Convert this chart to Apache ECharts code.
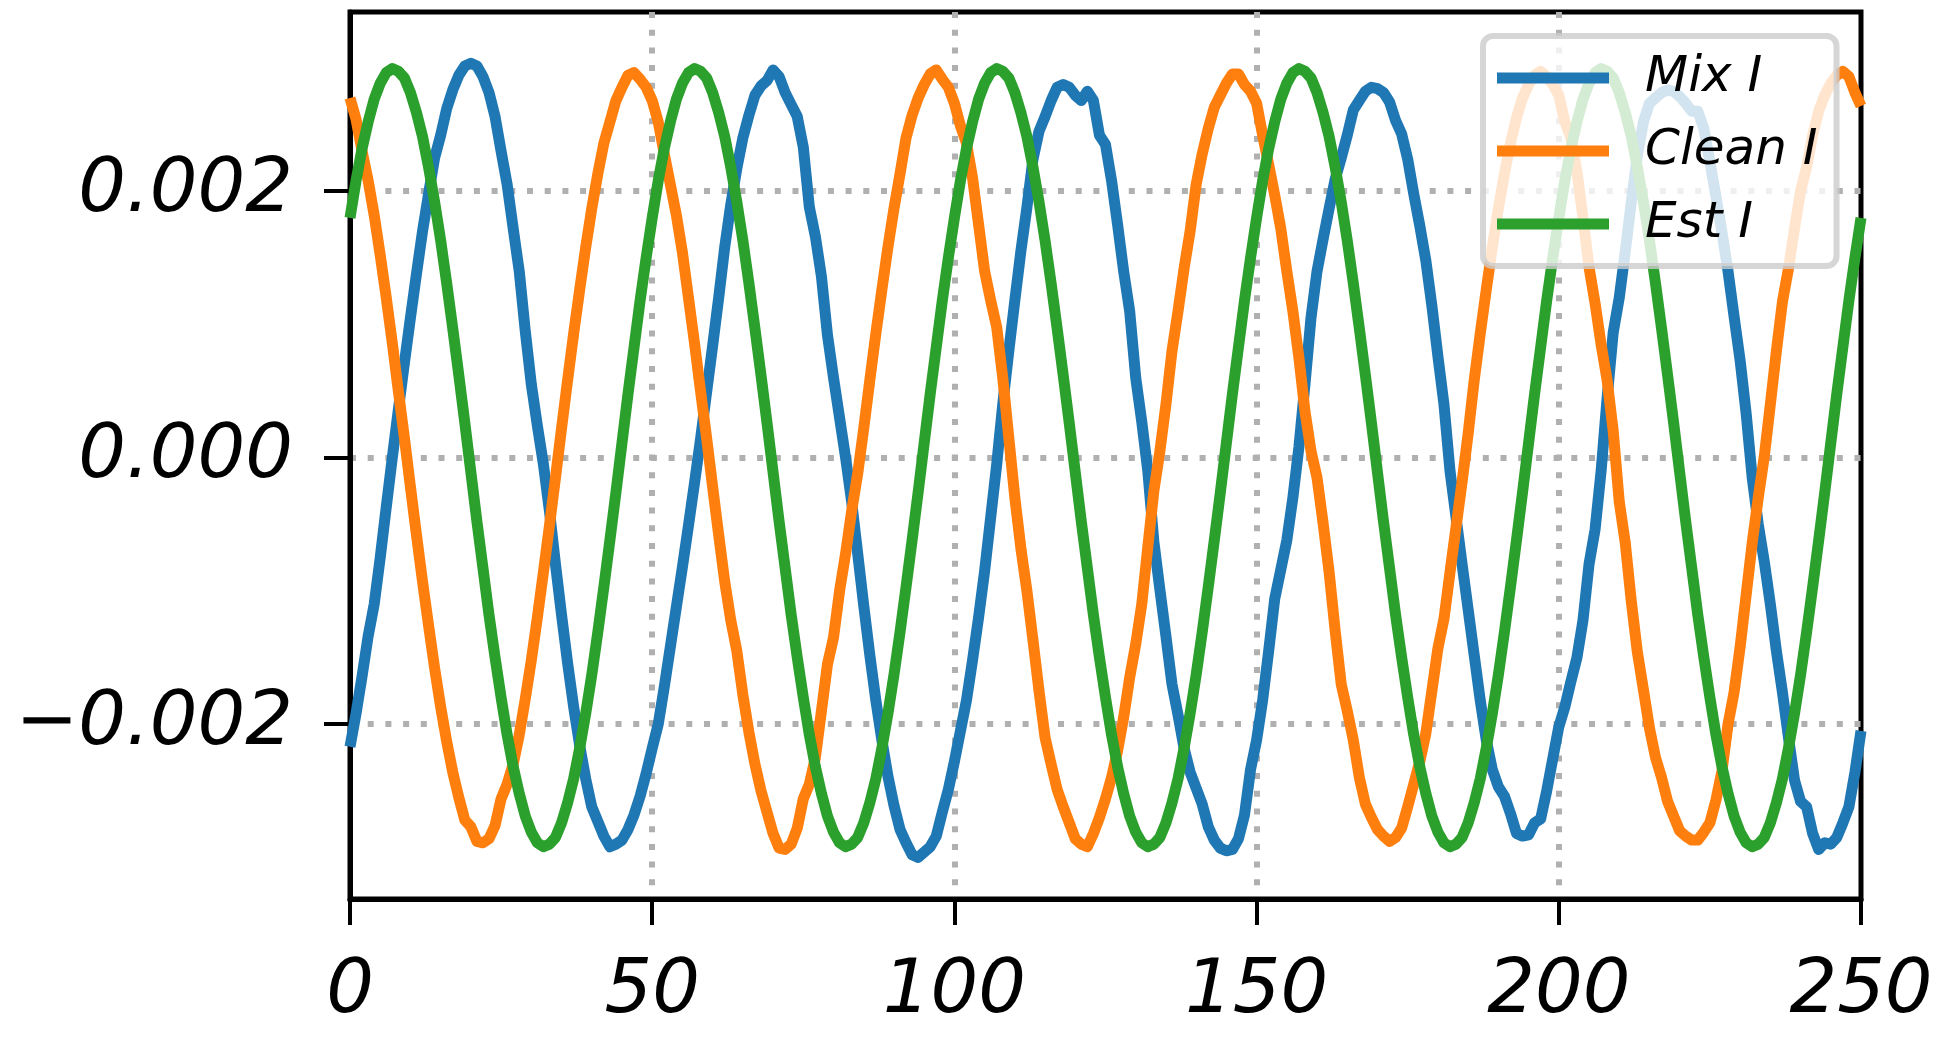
<!DOCTYPE html>
<html>

<head>
    <title></title>
    <meta charset="UTF-8">
    <script src="https://cdn.jsdelivr.net/npm/echarts@6/dist/echarts.min.js"></script>
</head>
<style type="text/css">
    html,
    body {
        height: 100%;
        width: 100%;
        margin: 0;
        padding: 0;
        background: #fff;
    }

    #main {
        width: 1944px;
        height: 1044px;
    }
</style>

<body>
    <div id="main"></div>
</body>
<script>
    // sample index runs 0..250, one value per sample
    var seriesNames = ['Mix I', 'Clean I', 'Est I'];
    var xTicks = [0, 50, 100, 150, 200, 250];
    var yTicks = [-0.002, 0, 0.002];

    var mixI = [
        -0.00217, -0.00192, -0.00164, -0.00134, -0.00110, -0.00075, -0.00037, 0.00000, 0.00036, 0.00071,
        0.00105, 0.00138, 0.00170, 0.00198, 0.00225, 0.00242, 0.00262, 0.00276, 0.00287, 0.00294,
        0.00296, 0.00294, 0.00286, 0.00274, 0.00256, 0.00230, 0.00205, 0.00172, 0.00140, 0.00095,
        0.00055, 0.00024, -0.00005, -0.00040, -0.00080, -0.00118, -0.00154, -0.00187, -0.00216, -0.00241,
        -0.00262, -0.00273, -0.00284, -0.00292, -0.00290, -0.00287, -0.00279, -0.00268, -0.00254, -0.00237,
        -0.00218, -0.00200, -0.00172, -0.00142, -0.00112, -0.00082, -0.00051, -0.00019, 0.00014, 0.00049,
        0.00084, 0.00120, 0.00158, 0.00190, 0.00217, 0.00240, 0.00257, 0.00272, 0.00279, 0.00283,
        0.00291, 0.00286, 0.00274, 0.00265, 0.00256, 0.00233, 0.00188, 0.00166, 0.00136, 0.00092,
        0.00060, 0.00030, 0.00000, -0.00033, -0.00072, -0.00111, -0.00148, -0.00182, -0.00212, -0.00239,
        -0.00261, -0.00279, -0.00289, -0.00298, -0.00300, -0.00296, -0.00292, -0.00284, -0.00266, -0.00249,
        -0.00228, -0.00205, -0.00182, -0.00152, -0.00120, -0.00085, -0.00045, -0.00005, 0.00040, 0.00080,
        0.00118, 0.00155, 0.00188, 0.00224, 0.00245, 0.00256, 0.00268, 0.00278, 0.00280, 0.00278,
        0.00272, 0.00268, 0.00275, 0.00268, 0.00242, 0.00235, 0.00208, 0.00175, 0.00140, 0.00110,
        0.00060, 0.00027, -0.00010, -0.00063, -0.00099, -0.00134, -0.00170, -0.00193, -0.00218, -0.00236,
        -0.00248, -0.00260, -0.00277, -0.00287, -0.00293, -0.00295, -0.00294, -0.00286, -0.00268, -0.00234,
        -0.00212, -0.00182, -0.00145, -0.00106, -0.00084, -0.00062, -0.00030, 0.00008, 0.00055, 0.00105,
        0.00140, 0.00164, 0.00187, 0.00209, 0.00225, 0.00242, 0.00261, 0.00268, 0.00275, 0.00278,
        0.00277, 0.00274, 0.00267, 0.00253, 0.00243, 0.00224, 0.00198, 0.00174, 0.00148, 0.00114,
        0.00076, 0.00040, -0.00010, -0.00045, -0.00080, -0.00114, -0.00148, -0.00182, -0.00212, -0.00234,
        -0.00247, -0.00254, -0.00267, -0.00282, -0.00284, -0.00283, -0.00274, -0.00271, -0.00250, -0.00226,
        -0.00202, -0.00187, -0.00168, -0.00150, -0.00122, -0.00080, -0.00054, -0.00010, 0.00045, 0.00094,
        0.00120, 0.00155, 0.00192, 0.00227, 0.00252, 0.00266, 0.00270, 0.00274, 0.00276, 0.00275,
        0.00271, 0.00266, 0.00260, 0.00260, 0.00247, 0.00222, 0.00196, 0.00169, 0.00140, 0.00106,
        0.00073, 0.00033, -0.00015, -0.00050, -0.00078, -0.00110, -0.00145, -0.00176, -0.00210, -0.00242,
        -0.00258, -0.00262, -0.00282, -0.00294, -0.00289, -0.00290, -0.00285, -0.00274, -0.00262, -0.00236,
        -0.00205
    ];

    var cleanI = [
        0.00270, 0.00254, 0.00230, 0.00208, 0.00182, 0.00152, 0.00120, 0.00086, 0.00050, 0.00015,
        -0.00022, -0.00058, -0.00093, -0.00126, -0.00158, -0.00187, -0.00213, -0.00236, -0.00255, -0.00272,
        -0.00277, -0.00288, -0.00289, -0.00286, -0.00276, -0.00256, -0.00245, -0.00230, -0.00208, -0.00181,
        -0.00152, -0.00120, -0.00086, -0.00051, -0.00015, 0.00022, 0.00058, 0.00093, 0.00126, 0.00158,
        0.00187, 0.00213, 0.00236, 0.00252, 0.00268, 0.00278, 0.00287, 0.00289, 0.00284, 0.00278,
        0.00268, 0.00252, 0.00228, 0.00205, 0.00182, 0.00154, 0.00120, 0.00086, 0.00050, 0.00015,
        -0.00022, -0.00058, -0.00093, -0.00122, -0.00145, -0.00178, -0.00206, -0.00230, -0.00250, -0.00266,
        -0.00282, -0.00293, -0.00294, -0.00290, -0.00278, -0.00256, -0.00245, -0.00225, -0.00190, -0.00155,
        -0.00135, -0.00100, -0.00072, -0.00040, -0.00012, 0.00022, 0.00058, 0.00093, 0.00126, 0.00158,
        0.00187, 0.00213, 0.00240, 0.00257, 0.00270, 0.00280, 0.00288, 0.00291, 0.00284, 0.00278,
        0.00266, 0.00249, 0.00236, 0.00210, 0.00175, 0.00140, 0.00118, 0.00098, 0.00060, 0.00015,
        -0.00030, -0.00068, -0.00100, -0.00137, -0.00175, -0.00210, -0.00230, -0.00249, -0.00262, -0.00274,
        -0.00286, -0.00290, -0.00292, -0.00282, -0.00270, -0.00256, -0.00240, -0.00220, -0.00195, -0.00165,
        -0.00140, -0.00110, -0.00067, -0.00025, 0.00005, 0.00040, 0.00080, 0.00110, 0.00142, 0.00170,
        0.00205, 0.00228, 0.00247, 0.00263, 0.00272, 0.00281, 0.00288, 0.00288, 0.00280, 0.00275,
        0.00266, 0.00242, 0.00220, 0.00197, 0.00172, 0.00140, 0.00110, 0.00075, 0.00035, 0.00005,
        -0.00015, -0.00049, -0.00086, -0.00130, -0.00170, -0.00190, -0.00212, -0.00240, -0.00260, -0.00270,
        -0.00279, -0.00284, -0.00288, -0.00285, -0.00278, -0.00262, -0.00245, -0.00228, -0.00207, -0.00175,
        -0.00143, -0.00121, -0.00086, -0.00052, -0.00018, 0.00018, 0.00058, 0.00093, 0.00126, 0.00158,
        0.00187, 0.00213, 0.00236, 0.00255, 0.00270, 0.00280, 0.00287, 0.00290, 0.00286, 0.00280,
        0.00272, 0.00252, 0.00240, 0.00215, 0.00180, 0.00143, 0.00116, 0.00085, 0.00058, 0.00020,
        -0.00033, -0.00064, -0.00108, -0.00146, -0.00174, -0.00203, -0.00225, -0.00240, -0.00258, -0.00269,
        -0.00280, -0.00284, -0.00287, -0.00287, -0.00281, -0.00274, -0.00257, -0.00235, -0.00200, -0.00176,
        -0.00142, -0.00103, -0.00064, -0.00030, 0.00001, 0.00040, 0.00080, 0.00117, 0.00142, 0.00172,
        0.00200, 0.00218, 0.00242, 0.00260, 0.00272, 0.00281, 0.00287, 0.00290, 0.00286, 0.00274,
        0.00264
    ];

    var estI = [
        0.00180, 0.00208, 0.00232, 0.00252, 0.00269, 0.00281, 0.00289, 0.00292, 0.00290, 0.00285,
        0.00274, 0.00259, 0.00241, 0.00218, 0.00192, 0.00163, 0.00131, 0.00097, 0.00062, 0.00026,
        -0.00011, -0.00048, -0.00083, -0.00118, -0.00150, -0.00180, -0.00208, -0.00232, -0.00252, -0.00269,
        -0.00281, -0.00289, -0.00292, -0.00290, -0.00285, -0.00274, -0.00259, -0.00241, -0.00218, -0.00192,
        -0.00163, -0.00131, -0.00097, -0.00062, -0.00026, 0.00011, 0.00048, 0.00083, 0.00118, 0.00150,
        0.00180, 0.00208, 0.00232, 0.00252, 0.00269, 0.00281, 0.00289, 0.00292, 0.00290, 0.00285,
        0.00274, 0.00259, 0.00241, 0.00218, 0.00192, 0.00163, 0.00131, 0.00097, 0.00062, 0.00026,
        -0.00011, -0.00048, -0.00083, -0.00118, -0.00150, -0.00180, -0.00208, -0.00232, -0.00252, -0.00269,
        -0.00281, -0.00289, -0.00292, -0.00290, -0.00285, -0.00274, -0.00259, -0.00241, -0.00218, -0.00192,
        -0.00163, -0.00131, -0.00097, -0.00062, -0.00026, 0.00011, 0.00048, 0.00083, 0.00118, 0.00150,
        0.00180, 0.00208, 0.00232, 0.00252, 0.00269, 0.00281, 0.00289, 0.00292, 0.00290, 0.00285,
        0.00274, 0.00259, 0.00241, 0.00218, 0.00192, 0.00163, 0.00131, 0.00097, 0.00062, 0.00026,
        -0.00011, -0.00048, -0.00083, -0.00118, -0.00150, -0.00180, -0.00208, -0.00232, -0.00252, -0.00269,
        -0.00281, -0.00289, -0.00292, -0.00290, -0.00285, -0.00274, -0.00259, -0.00241, -0.00218, -0.00192,
        -0.00163, -0.00131, -0.00097, -0.00062, -0.00026, 0.00011, 0.00048, 0.00083, 0.00118, 0.00150,
        0.00180, 0.00208, 0.00232, 0.00252, 0.00269, 0.00281, 0.00289, 0.00292, 0.00290, 0.00285,
        0.00274, 0.00259, 0.00241, 0.00218, 0.00192, 0.00163, 0.00131, 0.00097, 0.00062, 0.00026,
        -0.00011, -0.00048, -0.00083, -0.00118, -0.00150, -0.00180, -0.00208, -0.00232, -0.00252, -0.00269,
        -0.00281, -0.00289, -0.00292, -0.00290, -0.00285, -0.00274, -0.00259, -0.00241, -0.00218, -0.00192,
        -0.00163, -0.00131, -0.00097, -0.00062, -0.00026, 0.00011, 0.00048, 0.00083, 0.00118, 0.00150,
        0.00180, 0.00208, 0.00232, 0.00252, 0.00269, 0.00281, 0.00289, 0.00292, 0.00290, 0.00285,
        0.00274, 0.00259, 0.00241, 0.00218, 0.00192, 0.00163, 0.00131, 0.00097, 0.00062, 0.00026,
        -0.00011, -0.00048, -0.00083, -0.00118, -0.00150, -0.00180, -0.00208, -0.00232, -0.00252, -0.00269,
        -0.00281, -0.00289, -0.00292, -0.00290, -0.00285, -0.00274, -0.00259, -0.00241, -0.00218, -0.00192,
        -0.00163, -0.00131, -0.00097, -0.00062, -0.00026, 0.00011, 0.00048, 0.00083, 0.00118, 0.00150,
        0.00180
    ];

    var colors = ['#1f77b4', '#ff7f0e', '#2ca02c'];
    var font = 'DejaVu Sans';

    function pairs(arr) {
        return arr.map(function (v, i) { return [i, v]; });
    }

    function lineSeries(name, arr, color) {
        return {
            name: name,
            type: 'line',
            data: pairs(arr),
            showSymbol: false,
            symbol: 'none',
            color: color,
            lineStyle: { color: color, width: 11, join: 'round', cap: 'butt' }
        };
    }

    var dotted = { color: '#b0b0b0', width: 6, type: [6, 11.7] };
    var tickStyle = { show: true, inside: false, length: 26, lineStyle: { color: '#000', width: 4 } };
    var labelFont = { fontSize: 75, fontStyle: 'italic', fontFamily: font, color: '#000' };

    var myChart = echarts.init(document.getElementById('main'));

    var option = {
        animation: false,
        backgroundColor: '#fff',
        grid: {
            left: 350, right: 83, top: 12, bottom: 145,
            show: true, borderColor: '#000', borderWidth: 5, backgroundColor: '#fff'
        },
        xAxis: {
            type: 'value',
            min: xTicks[0],
            max: xTicks[xTicks.length - 1],
            interval: 50,
            axisLine: { show: true, onZero: false, lineStyle: { color: '#000', width: 5 } },
            axisTick: tickStyle,
            axisLabel: Object.assign({ margin: 56 }, labelFont),
            splitLine: { show: true, showMinLine: false, showMaxLine: false, lineStyle: dotted }
        },
        yAxis: {
            type: 'value',
            min: -0.003312,
            max: 0.003345,
            axisLine: { show: true, onZero: false, lineStyle: { color: '#000', width: 5 } },
            axisTick: Object.assign({ customValues: yTicks }, tickStyle),
            axisLabel: Object.assign({
                customValues: yTicks,
                margin: 57,
                formatter: function (v) {
                    return (v < 0 ? '\u2212' : '') + Math.abs(v).toFixed(3);
                }
            }, labelFont),
            splitLine: { show: true, lineStyle: dotted }
        },
        legend: {
            orient: 'vertical',
            left: 1483,
            top: 36,
            padding: [12, 19, 12, 14],
            itemGap: 13,
            itemWidth: 112,
            itemHeight: 11,
            icon: 'rect',
            data: seriesNames,
            backgroundColor: 'rgba(255,255,255,0.8)',
            borderColor: 'rgba(204,204,204,0.8)',
            borderWidth: 6,
            borderRadius: 10,
            textStyle: {
                fontSize: 50, fontStyle: 'italic', fontFamily: font, color: '#000',
                lineHeight: 56, padding: [4, 0, 0, 31]
            }
        },
        series: [
            lineSeries(seriesNames[0], mixI, colors[0]),
            lineSeries(seriesNames[1], cleanI, colors[1]),
            lineSeries(seriesNames[2], estI, colors[2])
        ]
    };

    myChart.setOption(option);
</script>

</html>
